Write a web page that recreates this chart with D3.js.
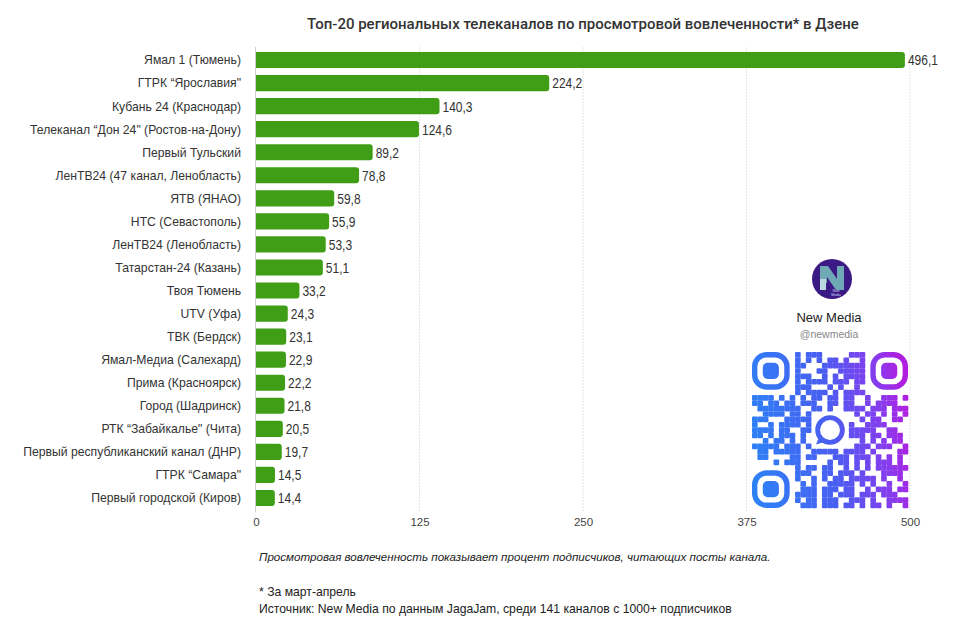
<!DOCTYPE html>
<html><head><meta charset="utf-8">
<script src="https://cdn.jsdelivr.net/npm/d3@7"></script>
<style>
html,body{margin:0;padding:0;background:#fff;}
svg{display:block;}
</style></head>
<body>
<svg id="chart" width="960" height="642"></svg>
<script>
const title = "Топ-20 региональных телеканалов по просмотровой вовлеченности* в Дзене";
const channels = [
  "Ямал 1 (Тюмень)",
  "ГТРК \u201cЯрославия\"",
  "Кубань 24 (Краснодар)",
  "Телеканал \u201cДон 24\" (Ростов-на-Дону)",
  "Первый Тульский",
  "ЛенТВ24 (47 канал, Ленобласть)",
  "ЯТВ (ЯНАО)",
  "НТС (Севастополь)",
  "ЛенТВ24 (Ленобласть)",
  "Татарстан-24 (Казань)",
  "Твоя Тюмень",
  "UTV (Уфа)",
  "ТВК (Бердск)",
  "Ямал-Медиа (Салехард)",
  "Прима (Красноярск)",
  "Город (Шадринск)",
  "РТК \u201cЗабайкалье\" (Чита)",
  "Первый республиканский канал (ДНР)",
  "ГТРК \u201cСамара\"",
  "Первый городской (Киров)"
];
const engagement = [496.1, 224.2, 140.3, 124.6, 89.2, 78.8, 59.8, 55.9, 53.3, 51.1,
                    33.2, 24.3, 23.1, 22.9, 22.2, 21.8, 20.5, 19.7, 14.5, 14.4];
const tickValues = [0, 125, 250, 375, 500];
const note = "Просмотровая вовлеченность показывает процент подписчиков, читающих посты канала.";
const footnote = "* За март-апрель";
const source = "Источник: New Media по данным JagaJam, среди 141 каналов с 1000+ подписчиков";
const brandName = "New Media";
const brandHandle = "@newmedia";

const svg = d3.select("#chart");
const green = "#3f9e16";
const sans = "'Liberation Sans', Arial, Helvetica, sans-serif";

const x = d3.scaleLinear().domain([0, 500]).range([256, 910]);
const y = d3.scaleBand().domain(channels).range([48.5, 509.5]).paddingInner(0.3).paddingOuter(0.15);

// title
svg.append("text").attr("x", 583).attr("y", 29).attr("text-anchor", "middle")
  .attr("font-family", "Roboto, 'Liberation Sans', sans-serif").attr("font-size", 15).attr("font-weight", 500)
  .attr("fill", "#333").text(title);

// gridlines
svg.append("g").selectAll("line").data(tickValues.slice(1)).join("line")
  .attr("x1", d => x(d)).attr("x2", d => x(d)).attr("y1", 47).attr("y2", 512)
  .attr("stroke", "#e6e6e6").attr("stroke-width", 1).attr("stroke-dasharray", "2,1");

// axis
const axis = d3.axisBottom(x).tickValues(tickValues).tickSize(0).tickPadding(6).tickFormat(d3.format("d"));
const gx = svg.append("g").attr("transform", "translate(0,512)").call(axis);
gx.select(".domain").remove();
gx.selectAll("text").attr("font-family", sans).attr("font-size", 11.5).attr("fill", "#444");
svg.append("line").attr("x1", 255.5).attr("x2", 255.5).attr("y1", 47).attr("y2", 512)
  .attr("stroke", "#cfcfcf");

// bars with rounded right end
const r = 3;
function barPath(x0, x1, y0, h) {
  const rr = Math.min(r, (x1 - x0) / 2);
  return `M${x0},${y0}H${x1 - rr}Q${x1},${y0} ${x1},${y0 + rr}V${y0 + h - rr}Q${x1},${y0 + h} ${x1 - rr},${y0 + h}H${x0}Z`;
}
const rows = channels.map((c, i) => ({c, v: engagement[i]}));
svg.append("g").selectAll("path").data(rows).join("path")
  .attr("d", d => barPath(x(0), x(d.v), y(d.c), y.bandwidth()))
  .attr("fill", green);

// value labels (condensed look)
svg.append("g").selectAll("text").data(rows).join("text")
  .attr("transform", d => `translate(${x(d.v) + 3},${y(d.c) + y.bandwidth() / 2}) scale(0.8,1)`)
  .attr("dy", "0.36em").attr("font-family", sans).attr("font-size", 15)
  .attr("fill", "#333").text(d => d3.format(".1f")(d.v).replace(".", ","));

// category labels
svg.append("g").selectAll("text").data(rows).join("text")
  .attr("x", 241).attr("y", d => y(d.c) + y.bandwidth() / 2)
  .attr("dy", "0.36em").attr("text-anchor", "end").attr("font-family", sans)
  .attr("font-size", 12.2).attr("fill", "#333").text(d => d.c);

// notes
svg.append("text").attr("x", 259).attr("y", 561).attr("font-family", sans)
  .attr("font-size", 11.6).attr("font-style", "italic").attr("fill", "#222").text(note);
svg.append("text").attr("x", 259).attr("y", 596).attr("font-family", sans)
  .attr("font-size", 12.2).attr("fill", "#222").text(footnote);
svg.append("text").attr("x", 259).attr("y", 613).attr("font-family", sans)
  .attr("font-size", 12.2).attr("fill", "#222").text(source);

// brand card
const card = svg.append("g");
card.append("rect").attr("x", 748).attr("y", 252).attr("width", 160).attr("height", 258).attr("fill", "#fff");
card.append("circle").attr("cx", 832).attr("cy", 279).attr("r", 20).attr("fill", "#3b1a86");
card.append("path").attr("d", "M820,266 L828,266 L837,279 L837,266 L844,266 L844,290 L836,290 L827,277 L827,283 L820,283 Z")
  .attr("fill", "#6fa9b6");
card.append("rect").attr("x", 820).attr("y", 279).attr("width", 6).attr("height", 11).attr("fill", "#b9d9de");
card.append("text").attr("x", 836).attr("y", 292).attr("text-anchor", "middle").attr("font-family", sans)
  .attr("font-size", 3.5).attr("fill", "#cfd8ff").text("New");
card.append("text").attr("x", 836).attr("y", 296).attr("text-anchor", "middle").attr("font-family", sans)
  .attr("font-size", 3.5).attr("fill", "#cfd8ff").text("Media");
card.append("text").attr("x", 829).attr("y", 322).attr("text-anchor", "middle").attr("font-family", sans)
  .attr("font-size", 13).attr("font-weight", 500).attr("fill", "#222").text(brandName);
card.append("text").attr("x", 829).attr("y", 338).attr("text-anchor", "middle").attr("font-family", sans)
  .attr("font-size", 10.5).attr("fill", "#888").text(brandHandle);

// decorative QR code
const defs = svg.append("defs");
const grad = defs.append("linearGradient").attr("id", "qrg").attr("gradientUnits", "userSpaceOnUse")
  .attr("x1", 752).attr("y1", 440).attr("x2", 908).attr("y2", 420);
grad.append("stop").attr("offset", "0").attr("stop-color", "#2e80f6");
grad.append("stop").attr("offset", "0.5").attr("stop-color", "#4a5ef1");
grad.append("stop").attr("offset", "0.85").attr("stop-color", "#8a3aee");
grad.append("stop").attr("offset", "1").attr("stop-color", "#b01fe0");
const N = 29, qx = 752, qy = 352, m = 156 / 29;
const qr = card.append("g").attr("fill", "url(#qrg)");
function inFinder(i, j) {
  const f = (a, b) => i >= a && i < a + 8 && j >= b && j < b + 8;
  return f(0, 0) || f(N - 8, 0) || f(0, N - 8);
}
function bit(i, j) {
  let h = Math.imul(i + 17, 374761393) ^ Math.imul(j + 31, 668265263);
  h = Math.imul(h ^ (h >>> 13), 1274126177);
  return ((h ^ (h >>> 16)) & 7) < 5;
}
const cells = [];
for (let i = 0; i < N; i++) for (let j = 0; j < N; j++) {
  if (inFinder(i, j)) continue;
  if (i >= 11 && i <= 17 && j >= 11 && j <= 17) continue;
  if (bit(i, j)) cells.push([i, j]);
}
qr.selectAll("rect.mod").data(cells).join("rect").attr("class", "mod")
  .attr("x", d => qx + d[0] * m).attr("y", d => qy + d[1] * m)
  .attr("width", m + 0.3).attr("height", m + 0.3).attr("rx", 1);
[[0, 0], [N - 7, 0], [0, N - 7]].forEach(([i, j]) => {
  qr.append("rect").attr("x", qx + i * m + m / 2).attr("y", qy + j * m + m / 2)
    .attr("width", 6 * m).attr("height", 6 * m).attr("rx", 2.2 * m)
    .attr("fill", "none").attr("stroke", "url(#qrg)").attr("stroke-width", m);
  qr.append("rect").attr("x", qx + (i + 2) * m).attr("y", qy + (j + 2) * m)
    .attr("width", 3 * m).attr("height", 3 * m).attr("rx", m * 0.9);
});
const cx = qx + 14.5 * m, cy = qy + 14.5 * m;
qr.append("circle").attr("cx", cx).attr("cy", cy).attr("r", 2.3 * m)
  .attr("fill", "none").attr("stroke", "url(#qrg)").attr("stroke-width", m * 0.9);
qr.append("path").attr("d", `M${cx - 2 * m},${cy + 1.2 * m} L${cx - 2.6 * m},${cy + 2.7 * m} L${cx - 0.9 * m},${cy + 2.2 * m} Z`);
</script>
</body></html>
